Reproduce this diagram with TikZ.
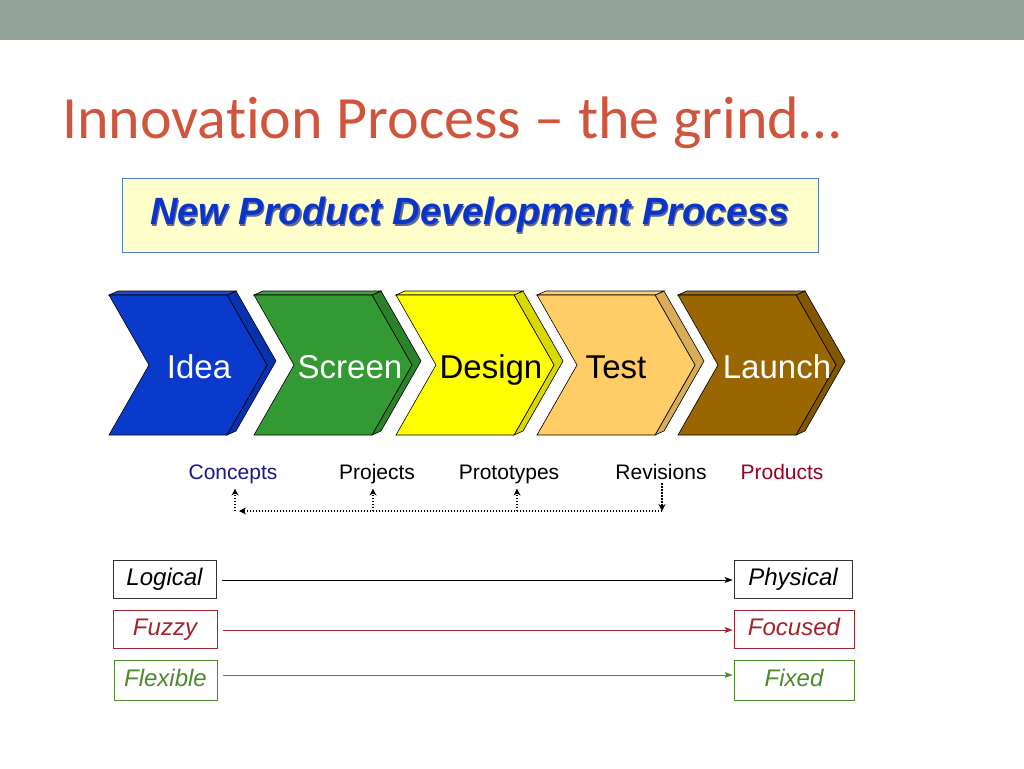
\documentclass[tikz,border=0pt]{standalone}
\usepackage{fontspec}
\setmainfont{Liberation Sans}
\newfontfamily\titlefont[Ligatures=CommonOff]{Carlito}
\usetikzlibrary{arrows.meta}
\definecolor{barcol}{HTML}{92A39A}
\definecolor{titlecol}{HTML}{D0553C}
\definecolor{boxfill}{HTML}{FFFFCC}
\definecolor{boxline}{HTML}{4F7EC8}
\definecolor{npdblue}{HTML}{0A35C8}
\definecolor{npdshadow}{HTML}{20286A}
\definecolor{cIdea}{HTML}{0A3ACC}
\definecolor{cScreen}{HTML}{339933}
\definecolor{cDesign}{HTML}{FFFF00}
\definecolor{cTest}{HTML}{FFCC66}
\definecolor{cLaunch}{HTML}{996600}
\definecolor{navy}{HTML}{1A1A80}
\definecolor{prodred}{HTML}{990022}
\definecolor{fuzzred}{HTML}{A3252B}
\definecolor{flexgreen}{HTML}{4C8A2C}
\definecolor{boxgray}{HTML}{333333}
\tikzset{
  chevtext/.style={font=\fontsize{33}{36}\selectfont, inner sep=0pt, anchor=base},
  lbl/.style={font=\fontsize{21}{23}\selectfont, inner sep=0pt, anchor=base},
  pair/.style={draw, line width=0.9pt, inner sep=0pt, minimum height=38pt,
    text height=17pt, text depth=5pt,
    font=\itshape\fontsize{24}{26}\selectfont},
  dotline/.style={line width=1.4pt, dash pattern=on 1.4pt off 1.6pt},
  dottip/.style={-{Stealth[length=7pt,width=7pt]}},
  pairarrow/.style={line width=0.8pt, -{Stealth[length=8pt,width=6pt,inset=2pt]},
    shorten <=6pt, shorten >=1pt},
}
\begin{document}
\begin{tikzpicture}[x=1pt,y=-1pt]
\useasboundingbox (0,0) rectangle (1024,768);
\fill[white] (0,0) rectangle (1024,768);
\fill[barcol] (0,0) rectangle (1024,40);
\node[anchor=base west, inner sep=0pt, text=titlecol,
  font=\titlefont\fontsize{60}{66}\selectfont] (title) at (62,138)
  {Innovation Process – the grind…};

% header box
\node[draw=boxline, fill=boxfill, line width=0.9pt, minimum width=696pt,
  minimum height=74pt, inner sep=0pt] (npdbox) at (470,215) {};
\node[text=npdshadow!70, font=\bfseries\itshape\fontsize{38}{40}\selectfont,
  inner sep=0pt] (npdshad) at (471.2,216.2) {New Product Development Process};
\node[text=npdblue, font=\bfseries\itshape\fontsize{38}{40}\selectfont,
  inner sep=0pt] (npd) at (470,215) {New Product Development Process};

% chevrons
\foreach \xo/\col in {109/cIdea, 254/cScreen, 396/cDesign, 537/cTest, 678/cLaunch}{
  \filldraw[fill=\col!85!black, draw=black, line width=0.6pt]
    (\xo+118,295) -- (\xo+127,291) -- (\xo+167,361) -- (\xo+127,431)
    -- (\xo+118,435) -- (\xo+158,365) -- cycle;
  \filldraw[fill=\col!92!white, draw=black, line width=0.6pt]
    (\xo,295) -- (\xo+9,291) -- (\xo+127,291) -- (\xo+118,295) -- cycle;
  \filldraw[fill=\col, draw=black, line width=0.6pt]
    (\xo,295) -- (\xo+118,295) -- (\xo+158,365) -- (\xo+118,435)
    -- (\xo,435) -- (\xo+40,365) -- cycle;
}
\node[chevtext, text=white] (idea) at (199,378) {Idea};
\node[chevtext, text=white] (screen) at (350,378) {Screen};
\node[chevtext, text=black] (design) at (491,378) {Design};
\node[chevtext, text=black] (test) at (616,378) {Test};
\node[chevtext, text=white] (launch) at (777,378) {Launch};

% stage outputs
\node[lbl, text=navy] (concepts) at (233,479) {Concepts};
\node[lbl] (projects) at (377,479) {Projects};
\node[lbl] (prototypes) at (509,479) {Prototypes};
\node[lbl] (revisions) at (661,479) {Revisions};
\node[lbl, text=prodred] (products) at (782,479) {Products};

\coordinate (rb) at (662,511);
\coordinate (cb) at (235,511);
\coordinate (pb) at (373,511);
\coordinate (tb) at (517,511);
\draw[dotline, dottip, shorten <=4pt] (revisions.south -| rb) -- (rb);
\draw[dotline, dottip, shorten >=4pt] (rb) -- (cb);
\draw[dotline, dottip, shorten >=5pt] (cb) -- (cb |- concepts.south);
\draw[dotline, dottip, shorten >=5pt] (pb) -- (pb |- projects.south);
\draw[dotline, dottip, shorten >=5pt] (tb) -- (tb |- prototypes.south);

% logical/physical pairs
\node[pair, draw=boxgray, minimum width=103pt] (logical) at (164.5,579) {Logical};
\node[pair, draw=fuzzred, text=fuzzred, minimum width=104pt] (fuzzy) at (165,629) {Fuzzy};
\node[pair, draw=flexgreen, text=flexgreen, minimum width=103pt, minimum height=40pt] (flexible) at (165.5,680) {Flexible};
\node[pair, draw=boxgray, minimum width=118pt] (physical) at (793,579) {Physical};
\node[pair, draw=fuzzred, text=fuzzred, minimum width=120pt] (focused) at (794,629) {Focused};
\node[pair, draw=flexgreen, text=flexgreen, minimum width=120pt, minimum height=40pt] (fixed) at (794,680) {Fixed};

\draw[pairarrow, black] ([yshift=-1pt]logical.east) -- ([yshift=-1pt]physical.west);
\draw[pairarrow, fuzzred] ([yshift=-1pt]fuzzy.east) -- ([yshift=-1pt]focused.west);
\draw[pairarrow, flexgreen] ([yshift=5pt]flexible.east) -- ([yshift=5pt]fixed.west);
\end{tikzpicture}
\end{document}
